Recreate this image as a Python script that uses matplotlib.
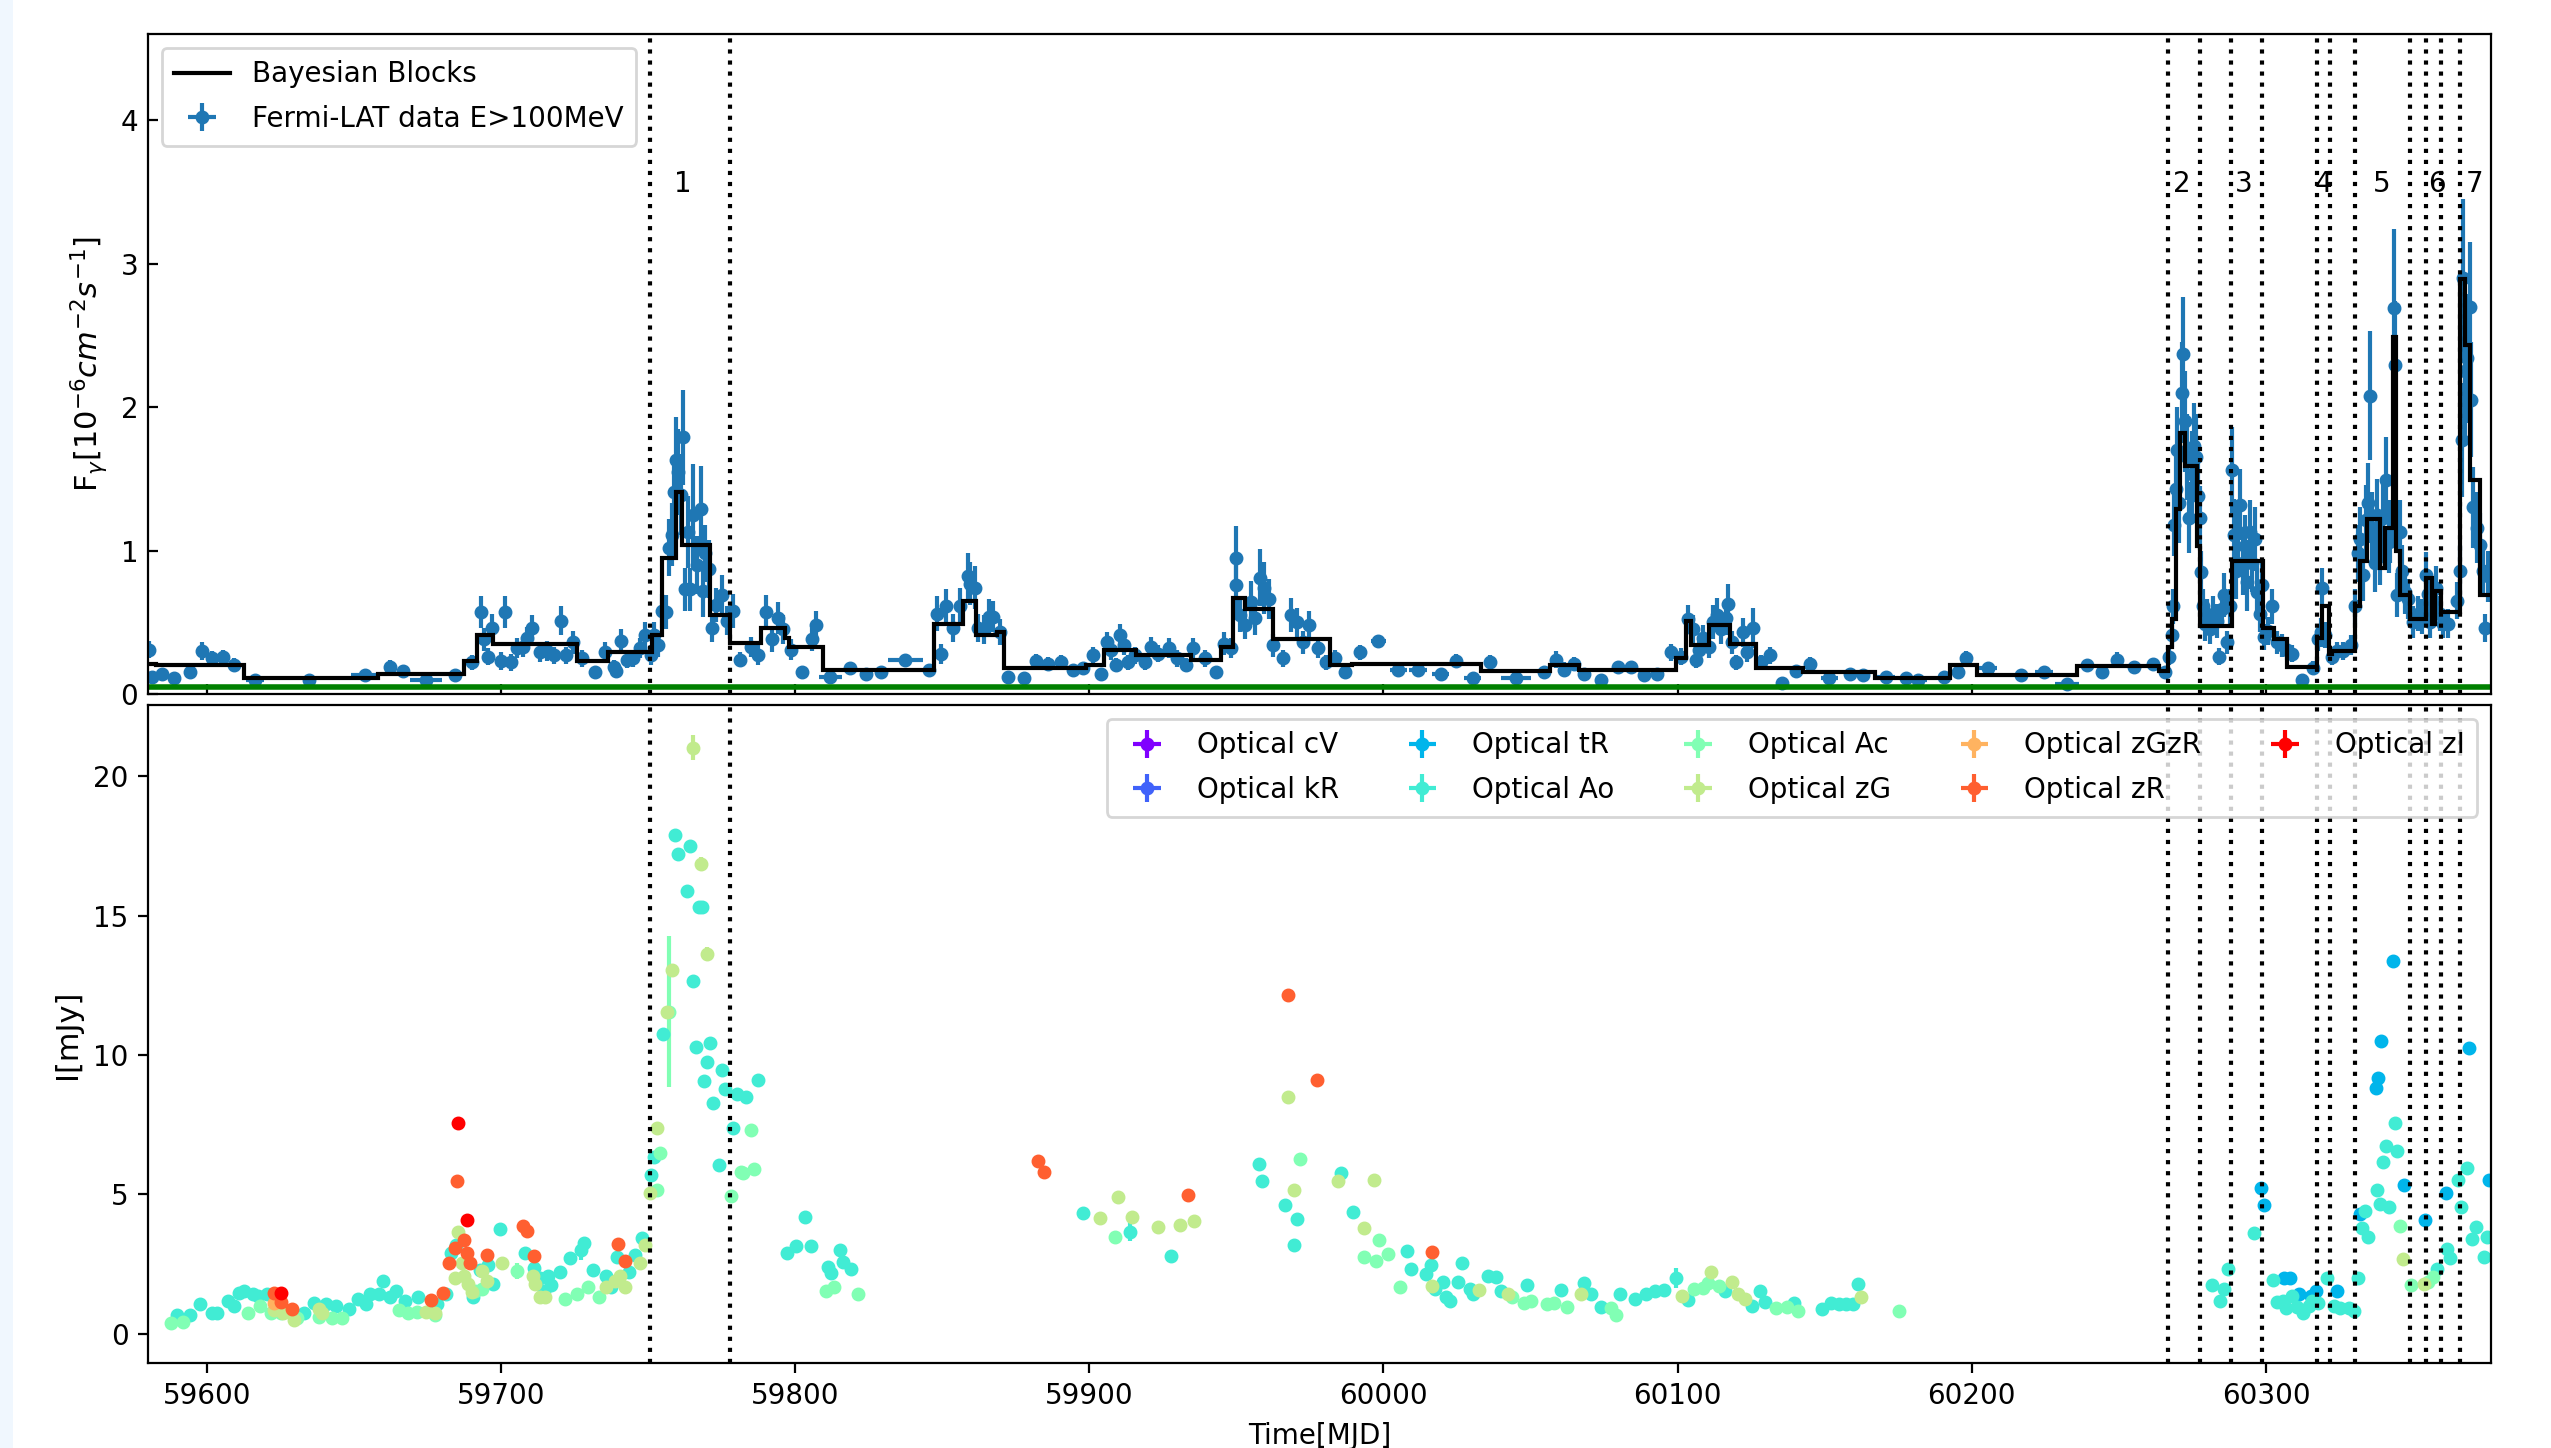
import numpy as np
import matplotlib
matplotlib.use("Agg")
import matplotlib.pyplot as plt
from matplotlib.patches import Rectangle

# ---------------- Fermi-LAT light curve (E>100 MeV) ----------------
fermi_t = [
    59580.5, 59581.5, 59584.6, 59588.8, 59594.3, 59598.5, 59601.9, 59605.4, 59609.4, 59616.4,
    59634.6, 59653.9, 59662.1, 59666.6, 59674.4, 59684.3, 59690.2, 59693.1, 59694.2, 59695.5,
    59696.9, 59699.9, 59701.5, 59703.4, 59705.5, 59707.4, 59708.7, 59710.6, 59713.1, 59715.6,
    59718.1, 59720.3, 59722.2, 59724.4, 59727.6, 59732.0, 59735.4, 59738.3, 59739.1, 59740.8,
    59742.7, 59745.0, 59747.1, 59749.0, 59750.9, 59752.1, 59753.4, 59754.7, 59756.2, 59757.2,
    59758.0, 59758.8, 59759.4, 59760.3, 59761.2, 59761.9, 59762.5, 59763.5, 59764.4, 59765.4,
    59766.7, 59767.9, 59768.8, 59769.5, 59770.8, 59771.7, 59773.0, 59775.2, 59777.0, 59778.8,
    59781.1, 59785.0, 59787.5, 59790.1, 59792.1, 59794.1, 59795.7, 59798.7, 59802.2, 59805.7,
    59807.2, 59812.0, 59818.8, 59824.1, 59829.3, 59837.4, 59845.6, 59848.2, 59849.7, 59851.4,
    59853.6, 59855.9, 59858.9, 59859.5, 59861.1, 59862.1, 59864.1, 59866.0, 59867.3, 59869.7,
    59872.5, 59877.7, 59881.9, 59885.8, 59890.4, 59894.3, 59897.7, 59901.2, 59904.0, 59906.1,
    59907.4, 59909.0, 59910.5, 59911.8, 59913.2, 59915.5, 59918.8, 59921.0, 59923.3, 59927.2,
    59929.8, 59932.7, 59935.4, 59939.2, 59943.2, 59945.7, 59948.0, 59949.7, 59949.9, 59951.2,
    59952.9, 59955.1, 59956.4, 59958.1, 59959.4, 59961.2, 59962.6, 59965.8, 59968.5, 59970.6,
    59972.5, 59974.7, 59977.6,
    59980.6, 59983.5, 59986.9, 59991.9, 59998.2, 60005.1, 60011.8, 60019.4, 60024.6, 60030.3,
    60036.2, 60045.0, 60054.4, 60058.6, 60061.5, 60064.6, 60068.3, 60074.0, 60079.7, 60084.3,
    60088.6, 60093.1, 60097.9, 60101.3, 60103.5, 60105.2, 60106.1, 60107.4, 60108.7, 60110.7,
    60112.0, 60113.3, 60114.8, 60116.5, 60117.2, 60118.5, 60119.8, 60122.1, 60123.7, 60125.6,
    60128.2, 60131.5, 60135.4, 60140.3, 60144.9, 60151.6, 60158.5, 60163.1, 60170.9, 60177.6,
    60181.7, 60190.4, 60195.3, 60198.0, 60205.6, 60216.7, 60224.6, 60232.4, 60239.2, 60244.1,
    60249.3, 60255.0, 60261.6, 60265.7,
    60267.1, 60267.9, 60268.5, 60268.7, 60269.4, 60269.9, 60270.5, 60271.3, 60271.9, 60272.5,
    60273.0, 60274.0, 60274.7, 60275.5, 60276.2, 60277.0, 60277.6, 60277.8, 60278.5, 60279.3,
    60280.1, 60281.0, 60282.1, 60283.2, 60284.1, 60284.9, 60285.7, 60286.8, 60287.8, 60288.3,
    60289.1, 60289.8, 60290.6, 60291.2, 60292.1, 60292.9, 60293.6, 60294.5, 60295.3, 60296.2,
    60297.0, 60297.9, 60298.7, 60299.3, 60300.8, 60302.2, 60303.6, 60305.3, 60307.2, 60309.0,
    60312.1, 60316.1, 60317.8, 60318.6, 60319.2, 60320.0, 60322.3, 60324.0, 60326.3, 60328.9,
    60330.2, 60331.4, 60332.1, 60333.1, 60334.0, 60334.8, 60335.3, 60336.2, 60337.0, 60337.9,
    60338.9, 60339.8, 60340.7, 60341.7, 60342.3, 60343.6, 60343.8, 60344.6, 60345.5, 60346.4,
    60347.2, 60348.3, 60350.0, 60351.7, 60353.2, 60354.3, 60355.1, 60355.9, 60356.8, 60357.9,
    60359.0, 60360.2, 60361.9, 60364.8, 60365.9, 60366.7, 60367.0, 60367.6, 60368.4, 60369.3,
    60369.8, 60370.4, 60371.6, 60372.7, 60373.8, 60374.4, 60375.5,
]
fermi_flux = [
    0.31, 0.12, 0.14, 0.11, 0.15, 0.30, 0.25, 0.26, 0.20, 0.10,
    0.10, 0.13, 0.19, 0.16, 0.10, 0.13, 0.22, 0.57, 0.38, 0.26,
    0.46, 0.23, 0.57, 0.22, 0.32, 0.33, 0.39, 0.46, 0.29, 0.30,
    0.27, 0.51, 0.27, 0.36, 0.25, 0.15, 0.29, 0.19, 0.16, 0.37,
    0.24, 0.25, 0.32, 0.41, 0.27, 0.41, 0.34, 0.58, 0.57, 1.02,
    1.11, 1.41, 1.63, 1.55, 1.39, 1.79, 0.73, 1.13, 0.73, 1.25,
    0.90, 1.29, 0.72, 0.98, 0.87, 0.46, 0.62, 0.69, 0.51, 0.58,
    0.24, 0.33, 0.27, 0.57, 0.38, 0.53, 0.45, 0.31, 0.15, 0.38,
    0.48, 0.12, 0.18, 0.14, 0.15, 0.24, 0.17, 0.56, 0.28, 0.61,
    0.46, 0.61, 0.82, 0.77, 0.74, 0.46, 0.45, 0.54, 0.54, 0.43,
    0.12, 0.11, 0.23, 0.21, 0.22, 0.17, 0.18, 0.27, 0.14, 0.36,
    0.31, 0.20, 0.41, 0.34, 0.22, 0.27, 0.22, 0.33, 0.28, 0.32,
    0.25, 0.20, 0.32, 0.25, 0.15, 0.35, 0.32, 0.76, 0.95, 0.55,
    0.48, 0.64, 0.53, 0.81, 0.74, 0.66, 0.34, 0.25, 0.55, 0.50,
    0.36, 0.48, 0.32,
    0.22, 0.25, 0.15, 0.29, 0.37, 0.17, 0.17, 0.14, 0.23, 0.11,
    0.22, 0.11, 0.15, 0.24, 0.17, 0.21, 0.14, 0.10, 0.19, 0.19,
    0.13, 0.14, 0.29, 0.26, 0.52, 0.45, 0.24, 0.31, 0.39, 0.33,
    0.50, 0.55, 0.45, 0.53, 0.63, 0.36, 0.22, 0.43, 0.29, 0.46,
    0.22, 0.27, 0.08, 0.16, 0.21, 0.11, 0.14, 0.13, 0.12, 0.11,
    0.10, 0.12, 0.15, 0.25, 0.18, 0.13, 0.15, 0.07, 0.20, 0.15,
    0.24, 0.19, 0.21, 0.15,
    0.26, 0.41, 0.61, 1.18, 1.43, 1.70, 1.33, 2.10, 2.37, 1.90,
    1.65, 1.23, 1.53, 1.73, 1.65, 1.38, 1.23, 0.85, 0.61, 0.49,
    0.54, 0.45, 0.56, 0.51, 0.26, 0.59, 0.69, 0.36, 0.61, 1.56,
    1.11, 0.86, 1.13, 1.32, 0.91, 1.03, 0.78, 1.13, 0.91, 1.08,
    0.71, 0.56, 0.76, 0.40, 0.44, 0.61, 0.36, 0.34, 0.31, 0.28,
    0.10, 0.18, 0.38, 0.43, 0.74, 0.41, 0.26, 0.30, 0.30, 0.34,
    0.61, 0.98, 1.08, 0.83, 1.21, 1.33, 2.08, 1.16, 0.91, 1.25,
    0.96, 1.23, 1.49, 1.06, 1.13, 2.69, 2.29, 0.69, 1.13, 0.86,
    0.71, 0.66, 0.50, 0.56, 0.54, 0.83, 0.70, 0.50, 0.61, 0.74,
    0.56, 0.49, 0.49, 0.65, 0.86, 1.77, 2.90, 2.25, 2.34, 2.70,
    2.05, 1.30, 1.16, 1.04, 0.86, 0.46, 0.82,
]
fermi_flux_err = [
    0.06, 0.04, 0.04, 0.04, 0.04, 0.06, 0.05, 0.05, 0.05, 0.03,
    0.03, 0.03, 0.05, 0.04, 0.03, 0.04, 0.05, 0.11, 0.08, 0.06,
    0.10, 0.06, 0.11, 0.06, 0.07, 0.07, 0.08, 0.09, 0.07, 0.07,
    0.06, 0.10, 0.06, 0.08, 0.06, 0.04, 0.07, 0.05, 0.05, 0.08,
    0.06, 0.06, 0.07, 0.09, 0.07, 0.09, 0.08, 0.12, 0.12, 0.20,
    0.22, 0.25, 0.30, 0.30, 0.28, 0.33, 0.15, 0.25, 0.15, 0.35,
    0.20, 0.30, 0.18, 0.20, 0.20, 0.10, 0.12, 0.14, 0.10, 0.12,
    0.05, 0.07, 0.07, 0.12, 0.09, 0.11, 0.10, 0.07, 0.04, 0.08,
    0.10, 0.03, 0.04, 0.04, 0.04, 0.04, 0.04, 0.12, 0.07, 0.12,
    0.10, 0.13, 0.16, 0.15, 0.15, 0.10, 0.10, 0.12, 0.11, 0.09,
    0.04, 0.04, 0.05, 0.05, 0.05, 0.04, 0.04, 0.06, 0.04, 0.07,
    0.07, 0.05, 0.08, 0.07, 0.05, 0.06, 0.05, 0.07, 0.06, 0.07,
    0.06, 0.05, 0.07, 0.06, 0.04, 0.08, 0.07, 0.20, 0.22, 0.12,
    0.10, 0.15, 0.12, 0.20, 0.18, 0.14, 0.08, 0.06, 0.12, 0.10,
    0.08, 0.10, 0.07,
    0.05, 0.06, 0.04, 0.05, 0.04, 0.03, 0.03, 0.03, 0.05, 0.03,
    0.05, 0.03, 0.04, 0.06, 0.05, 0.05, 0.04, 0.04, 0.04, 0.04,
    0.04, 0.04, 0.06, 0.06, 0.10, 0.10, 0.06, 0.07, 0.09, 0.08,
    0.12, 0.12, 0.10, 0.12, 0.14, 0.08, 0.05, 0.10, 0.07, 0.14,
    0.05, 0.06, 0.03, 0.04, 0.05, 0.03, 0.03, 0.03, 0.03, 0.03,
    0.03, 0.03, 0.04, 0.05, 0.03, 0.03, 0.03, 0.03, 0.04, 0.04,
    0.05, 0.04, 0.04, 0.04,
    0.06, 0.08, 0.12, 0.22, 0.25, 0.30, 0.28, 0.35, 0.40, 0.35,
    0.30, 0.25, 0.30, 0.30, 0.30, 0.25, 0.22, 0.15, 0.12, 0.12,
    0.12, 0.10, 0.12, 0.12, 0.06, 0.12, 0.15, 0.08, 0.12, 0.30,
    0.25, 0.20, 0.22, 0.25, 0.22, 0.22, 0.20, 0.22, 0.20, 0.22,
    0.18, 0.13, 0.16, 0.09, 0.10, 0.12, 0.08, 0.08, 0.07, 0.06,
    0.04, 0.05, 0.08, 0.10, 0.14, 0.09, 0.06, 0.06, 0.06, 0.07,
    0.12, 0.20, 0.22, 0.18, 0.25, 0.28, 0.45, 0.25, 0.20, 0.25,
    0.20, 0.25, 0.30, 0.22, 0.22, 0.55, 0.45, 0.15, 0.22, 0.18,
    0.15, 0.14, 0.11, 0.12, 0.12, 0.16, 0.15, 0.11, 0.13, 0.15,
    0.12, 0.10, 0.10, 0.13, 0.18, 0.40, 0.55, 0.45, 0.45, 0.45,
    0.40, 0.28, 0.25, 0.22, 0.18, 0.10, 0.18,
]
fermi_time_err = [
    0.5, 0.5, 1.0, 1.5, 1.5, 1.0, 1.0, 1.0, 1.0, 3.0,
    2.0, 5.0, 1.5, 1.5, 5.5, 1.5, 1.0, 0.5, 0.5, 0.5,
    0.5, 0.5, 0.5, 0.5, 0.5, 0.5, 0.5, 0.5, 0.5, 0.5,
    0.5, 0.5, 0.5, 0.5, 0.5, 1.0, 0.5, 0.5, 0.5, 0.5,
    0.5, 0.5, 0.5, 0.5, 0.5, 0.5, 0.5, 0.5, 0.5, 0.5,
    0.5, 0.5, 0.5, 0.5, 0.5, 0.5, 0.5, 0.5, 0.5, 0.5,
    0.5, 0.5, 0.5, 0.5, 0.5, 0.5, 0.5, 0.5, 0.5, 0.5,
    0.5, 0.5, 0.5, 0.5, 0.5, 0.5, 0.5, 0.5, 1.0, 0.5,
    0.5, 4.0, 2.0, 2.0, 2.0, 6.0, 1.0, 0.5, 0.5, 0.5,
    0.5, 0.5, 0.5, 0.5, 0.5, 0.5, 0.5, 0.5, 0.5, 0.5,
    1.0, 1.0, 1.0, 1.0, 1.0, 1.0, 1.0, 0.5, 1.0, 0.5,
    0.5, 0.5, 0.5, 0.5, 0.5, 0.5, 0.5, 0.5, 0.5, 0.5,
    0.5, 0.5, 0.5, 0.5, 1.0, 0.5, 0.5, 0.5, 0.5, 0.5,
    0.5, 0.5, 0.5, 0.5, 0.5, 0.5, 0.5, 0.5, 0.5, 0.5,
    0.5, 0.5, 0.5,
    1.0, 1.0, 1.0, 1.5, 2.5, 3.0, 3.0, 3.0, 1.0, 3.0,
    1.0, 5.0, 1.5, 1.0, 1.0, 1.0, 1.0, 1.5, 1.5, 1.5,
    1.0, 1.0, 0.5, 0.5, 0.5, 0.5, 0.5, 0.5, 0.5, 0.5,
    0.5, 0.5, 0.5, 0.5, 0.5, 0.5, 0.5, 0.5, 0.5, 0.5,
    0.5, 0.5, 1.0, 1.5, 1.5, 3.0, 2.0, 2.0, 3.0, 2.0,
    3.0, 2.0, 1.0, 1.0, 3.0, 2.0, 3.0, 4.0, 1.5, 1.5,
    1.5, 1.5, 1.5, 0.5,
    0.5, 0.5, 0.5, 0.5, 0.5, 0.5, 0.5, 0.5, 0.5, 0.5,
    0.5, 0.5, 0.5, 0.5, 0.5, 0.5, 0.5, 0.5, 0.5, 0.5,
    0.5, 0.5, 0.5, 0.5, 0.5, 0.5, 0.5, 0.5, 0.5, 0.5,
    0.5, 0.5, 0.5, 0.5, 0.5, 0.5, 0.5, 0.5, 0.5, 0.5,
    0.5, 0.5, 0.5, 0.5, 0.5, 0.5, 0.5, 0.5, 0.5, 0.5,
    1.0, 0.5, 0.5, 0.5, 0.5, 0.5, 0.5, 0.5, 0.5, 0.5,
    0.5, 0.5, 0.5, 0.5, 0.5, 0.5, 0.5, 0.5, 0.5, 0.5,
    0.5, 0.5, 0.5, 0.5, 0.5, 0.5, 0.5, 0.5, 0.5, 0.5,
    0.5, 0.5, 0.5, 0.5, 0.5, 0.5, 0.5, 0.5, 0.5, 0.5,
    0.5, 0.5, 0.5, 0.5, 0.5, 0.5, 0.5, 0.5, 0.5, 0.5,
    0.5, 0.5, 0.5, 0.5, 0.5, 0.5, 0.5,
]

# ---------------- Bayesian blocks ----------------
bb_edges = [
    59580.0, 59582.7, 59612.7, 59658.1, 59687.5, 59691.7, 59697.4, 59726.0, 59736.4, 59751.5,
    59754.9, 59759.4, 59761.5, 59771.2, 59777.7, 59788.5, 59796.4, 59798.0, 59809.6, 59847.1,
    59857.2, 59861.5, 59868.6, 59871.0, 59898.8, 59905.1, 59915.9, 59934.4, 59944.8, 59948.7,
    59953.0, 59962.4, 59981.7, 59989.3, 60033.0, 60056.7, 60066.4, 60099.6, 60102.9, 60104.4,
    60110.7, 60117.8, 60126.5, 60142.5, 60167.2, 60192.7, 60201.7, 60235.8, 60263.8, 60266.8,
    60268.0, 60269.4, 60270.8, 60272.5, 60276.7, 60277.7, 60288.3, 60299.1, 60302.7, 60307.0,
    60317.2, 60318.9, 60321.4, 60322.3, 60330.4, 60331.9, 60334.3, 60338.6, 60340.6, 60343.3,
    60344.1, 60345.6, 60349.0, 60354.4, 60356.3, 60357.5, 60359.6, 60366.1, 60367.6, 60369.3,
    60372.9, 60376.5,
]
bb_values = [
    0.21, 0.20, 0.11, 0.14, 0.23, 0.41, 0.35, 0.23, 0.29, 0.41,
    0.95, 1.41, 1.04, 0.55, 0.355, 0.46, 0.39, 0.33, 0.17, 0.49,
    0.65, 0.41, 0.43, 0.18, 0.20, 0.31, 0.27, 0.24, 0.33, 0.67,
    0.59, 0.38, 0.20, 0.21, 0.16, 0.20, 0.17, 0.25, 0.51, 0.34,
    0.48, 0.35, 0.18, 0.15, 0.115, 0.20, 0.13, 0.195, 0.16, 0.33,
    0.52, 1.29, 1.82, 1.59, 1.03, 0.475, 0.93, 0.46, 0.38, 0.19,
    0.39, 0.61, 0.28, 0.30, 0.61, 0.93, 1.22, 0.88, 1.16, 2.49,
    1.00, 0.69, 0.52, 0.81, 0.49, 0.72, 0.57, 2.89, 2.43, 1.49,
    0.69,
]
green_level = 0.05

# ---------------- flare intervals ----------------
flare_edges = [59750.6, 59777.8, 60266.8, 60277.5, 60288.0, 60298.7, 60317.2, 60321.7,
               60330.4, 60349.1, 60354.3, 60359.6, 60366.1]
flare_labels = ['1', '2', '3', '4', '5', '6', '7']
flare_label_x = [59761.8, 60271.3, 60292.3, 60319.5, 60339.3, 60358.2, 60371.0]
flare_label_y = 3.5

# ---------------- Optical data ----------------
cV_t, cV_I, cV_e = [], [], []
kR_t, kR_I, kR_e = [], [], []

tR_t = [60298.3, 60299.5, 60306.2, 60308.2, 60311.2, 60315.2, 60317.0, 60324.0, 60332.0, 60337.5,
        60338.2, 60339.2, 60343.2, 60346.9, 60354.2, 60361.2, 60368.9, 60375.7]
tR_I = [5.22, 4.61, 2.01, 2.01, 1.41, 1.35, 1.53, 1.53, 4.30, 8.81,
        9.16, 10.49, 13.36, 5.34, 4.08, 5.03, 10.25, 5.52]
tR_e = [0.1, 0.1, 0.1, 0.1, 0.1, 0.1, 0.1, 0.1, 0.1, 0.1,
        0.1, 0.1, 0.1, 0.1, 0.1, 0.1, 0.1, 0.1]

Ao_t = [
    59590.0, 59594.2, 59597.7, 59601.8, 59603.6, 59607.1, 59609.4, 59610.9, 59612.7, 59615.7,
    59617.3, 59620.3, 59632.9, 59636.6, 59640.4, 59643.9, 59648.4, 59651.5, 59654.1, 59655.6,
    59658.6, 59659.8, 59662.4, 59664.3, 59667.2, 59671.9, 59678.3, 59681.3, 59683.1, 59684.8,
    59690.4, 59693.0, 59695.7, 59697.2, 59699.5, 59708.3, 59711.1, 59713.1, 59714.6, 59716.1,
    59717.1, 59719.9, 59723.6, 59727.2, 59728.2, 59731.3, 59735.8, 59737.4, 59739.3, 59743.4,
    59745.6, 59747.9, 59751.1, 59752.0, 59755.1, 59759.3, 59760.3, 59763.3, 59764.1, 59765.2,
    59766.2, 59767.2, 59768.5, 59769.0, 59770.2, 59771.1, 59772.1, 59774.2, 59775.0, 59776.3,
    59779.0, 59780.2, 59783.2, 59787.2, 59797.1, 59800.2, 59803.3, 59805.3, 59811.1, 59812.1,
    59815.4, 59816.4, 59819.1, 59897.7, 59913.7, 59927.7, 59957.8, 59958.8, 59966.6, 59969.7,
    59970.7, 59985.5, 59989.5, 60008.0, 60009.4, 60014.6, 60016.0, 60017.6, 60020.1, 60021.1,
    60022.5, 60025.4, 60026.6, 60029.3, 60030.5, 60035.7, 60038.3, 60039.8, 60048.8, 60060.3,
    60068.0, 60070.5, 60074.0, 60080.3, 60085.5, 60089.3, 60092.3, 60095.3, 60099.3, 60103.5,
    60116.0, 60125.2, 60128.0, 60129.7, 60139.7, 60149.2, 60152.2, 60154.7, 60157.2, 60159.7,
    60161.2, 60281.5, 60284.5, 60285.7, 60287.0, 60295.8, 60302.5, 60303.7, 60305.7, 60306.9,
    60308.7, 60310.7, 60312.7, 60314.5, 60315.7, 60317.7, 60320.7, 60323.2, 60325.2, 60328.2,
    60330.0, 60331.2, 60332.7, 60333.7, 60334.7, 60337.7, 60338.7, 60339.7, 60340.7, 60341.7,
    60343.7, 60344.7, 60358.2, 60361.4, 60362.4, 60365.4, 60366.4, 60368.4, 60370.2, 60371.4,
    60374.2, 60375.2,
]
Ao_I = [
    0.67, 0.67, 1.05, 0.73, 0.73, 1.17, 0.98, 1.45, 1.54, 1.43,
    1.37, 1.43, 0.73, 1.10, 1.08, 0.98, 0.90, 1.25, 1.08, 1.43,
    1.43, 1.89, 1.31, 1.54, 1.19, 1.31, 1.08, 1.43, 2.89, 3.18,
    1.33, 2.30, 2.48, 1.78, 3.77, 2.89, 2.36, 2.01, 1.54, 2.07,
    1.75, 2.21, 2.71, 3.01, 3.24, 2.30, 2.07, 1.66, 2.74, 2.22,
    2.83, 3.42, 5.69, 6.35, 10.75, 17.87, 17.19, 15.87, 17.48, 12.65,
    10.29, 15.32, 15.32, 9.07, 9.73, 10.41, 8.26, 6.04, 9.45, 8.79,
    7.37, 8.59, 8.50, 9.11, 2.91, 3.14, 4.18, 3.14, 2.39, 2.19,
    3.00, 2.57, 2.31, 4.32, 3.66, 2.79, 6.09, 5.46, 4.60, 3.17,
    4.13, 5.78, 4.35, 2.98, 2.32, 2.13, 2.45, 1.61, 1.84, 1.32,
    1.18, 1.84, 2.52, 1.61, 1.41, 2.08, 2.03, 1.53, 1.75, 1.56,
    1.82, 1.41, 0.97, 1.44, 1.23, 1.44, 1.53, 1.58, 2.00, 1.21,
    1.53, 1.01, 1.53, 1.13, 1.09, 0.88, 1.09, 1.06, 1.06, 1.06,
    1.79, 1.75, 1.18, 1.61, 2.31, 3.61, 1.93, 1.13, 1.18, 0.92,
    1.35, 0.95, 0.75, 1.01, 1.18, 1.09, 2.01, 1.01, 0.92, 0.92,
    0.83, 2.01, 3.78, 4.39, 3.47, 5.17, 4.65, 6.16, 6.73, 4.53,
    7.55, 6.56, 2.31, 3.05, 2.71, 5.52, 4.56, 5.95, 3.38, 3.83,
    2.74, 3.47,
]
Ao_e = [
    0.1, 0.1, 0.1, 0.1, 0.1, 0.1, 0.1, 0.1, 0.1, 0.1,
    0.1, 0.1, 0.1, 0.1, 0.1, 0.1, 0.1, 0.1, 0.1, 0.1,
    0.1, 0.1, 0.1, 0.1, 0.1, 0.1, 0.1, 0.1, 0.1, 0.1,
    0.1, 0.1, 0.1, 0.1, 0.1, 0.1, 0.1, 0.1, 0.1, 0.1,
    0.1, 0.1, 0.1, 0.35, 0.1, 0.1, 0.1, 0.1, 0.1, 0.1,
    0.1, 0.1, 0.1, 0.1, 0.1, 0.1, 0.1, 0.1, 0.1, 0.1,
    0.1, 0.1, 0.1, 0.1, 0.1, 0.1, 0.1, 0.1, 0.1, 0.1,
    0.1, 0.1, 0.1, 0.1, 0.1, 0.1, 0.1, 0.1, 0.1, 0.1,
    0.1, 0.1, 0.1, 0.1, 0.35, 0.1, 0.1, 0.1, 0.1, 0.1,
    0.1, 0.1, 0.1, 0.1, 0.1, 0.1, 0.1, 0.1, 0.1, 0.1,
    0.1, 0.1, 0.1, 0.1, 0.1, 0.1, 0.1, 0.1, 0.1, 0.1,
    0.1, 0.1, 0.1, 0.1, 0.1, 0.1, 0.1, 0.1, 0.35, 0.1,
    0.1, 0.1, 0.1, 0.1, 0.1, 0.1, 0.1, 0.1, 0.1, 0.1,
    0.1, 0.1, 0.1, 0.1, 0.1, 0.1, 0.1, 0.1, 0.1, 0.1,
    0.1, 0.1, 0.1, 0.1, 0.1, 0.1, 0.1, 0.1, 0.1, 0.1,
    0.1, 0.1, 0.1, 0.1, 0.1, 0.1, 0.1, 0.1, 0.1, 0.1,
    0.1, 0.1, 0.1, 0.1, 0.1, 0.1, 0.1, 0.1, 0.1, 0.1,
    0.1, 0.1,
]

Ac_t = [
    59587.9, 59592.0, 59613.9, 59618.2, 59621.8, 59625.3, 59630.6, 59638.2, 59642.7, 59646.0,
    59665.4, 59668.4, 59671.5, 59677.5, 59691.1, 59693.4, 59705.5, 59721.7, 59726.0, 59729.7,
    59733.2, 59753.2, 59754.1, 59757.2, 59778.3, 59781.5, 59782.3, 59785.1, 59786.1, 59810.4,
    59813.3, 59821.3, 59908.8, 59971.5, 59993.4, 59997.3, 59998.6, 60001.6, 60005.5, 60043.6,
    60047.6, 60050.1, 60055.6, 60057.8, 60062.3, 60077.3, 60079.0, 60105.5, 60108.5, 60110.2,
    60114.0, 60133.5, 60137.2, 60140.9, 60175.4, 60345.7, 60349.4, 60355.2, 60356.9,
]
Ac_I = [
    0.37, 0.41, 0.73, 0.98, 0.73, 0.73, 0.55, 0.61, 0.55, 0.58,
    0.84, 0.75, 0.78, 0.67, 1.54, 1.60, 2.25, 1.25, 1.43, 1.66,
    1.31, 5.17, 6.47, 11.55, 4.94, 5.81, 5.78, 7.30, 5.90, 1.53,
    1.67, 1.44, 3.47, 6.26, 2.74, 2.60, 3.35, 2.86, 1.68, 1.30,
    1.09, 1.18, 1.06, 1.09, 0.97, 0.92, 0.66, 1.61, 1.65, 1.82,
    1.70, 0.92, 0.97, 0.80, 0.83, 3.87, 1.75, 1.87, 2.05,
]
Ac_e = [
    0.1, 0.1, 0.1, 0.1, 0.1, 0.1, 0.1, 0.1, 0.1, 0.1,
    0.1, 0.1, 0.1, 0.1, 0.1, 0.1, 0.3, 0.1, 0.1, 0.1,
    0.1, 0.1, 0.1, 2.7, 0.1, 0.1, 0.1, 0.1, 0.1, 0.1,
    0.1, 0.1, 0.1, 0.1, 0.1, 0.1, 0.1, 0.1, 0.1, 0.1,
    0.1, 0.1, 0.1, 0.1, 0.1, 0.1, 0.1, 0.1, 0.1, 0.1,
    0.1, 0.1, 0.1, 0.1, 0.1, 0.1, 0.1, 0.1, 0.1,
]

zG_t = [
    59623.0, 59626.0, 59629.8, 59638.2, 59639.0, 59674.5, 59677.5, 59684.3, 59685.4, 59686.6,
    59687.4, 59688.9, 59690.0, 59693.4, 59695.4, 59700.2, 59711.0, 59711.6, 59713.1, 59715.1,
    59735.8, 59738.8, 59740.3, 59742.2, 59747.2, 59749.0, 59750.8, 59753.2, 59756.3, 59758.2,
    59765.2, 59768.1, 59770.2, 59903.5, 59909.6, 59914.6, 59923.4, 59930.7, 59935.5, 59967.6,
    59969.5, 59984.6, 59993.4, 59996.7, 60016.4, 60032.4, 60042.3, 60067.3, 60101.5, 60111.5,
    60118.5, 60120.5, 60123.0, 60162.2, 60346.7, 60353.7,
]
zG_I = [
    0.84, 0.73, 0.51, 0.87, 0.73, 0.78, 0.75, 2.01, 3.65, 2.54,
    2.07, 1.78, 1.51, 2.25, 1.89, 2.54, 2.07, 1.78, 1.33, 1.33,
    1.66, 1.89, 2.07, 1.66, 2.54, 3.18, 5.05, 7.37, 11.55, 13.06,
    21.02, 16.84, 13.63, 4.16, 4.89, 4.20, 3.82, 3.90, 4.06, 8.50,
    5.17, 5.46, 3.78, 5.53, 1.70, 1.58, 1.44, 1.44, 1.35, 2.22,
    1.87, 1.44, 1.23, 1.30, 2.69, 1.79,
]
zG_e = [
    0.1, 0.1, 0.1, 0.1, 0.1, 0.1, 0.1, 0.1, 0.1, 0.1,
    0.1, 0.1, 0.1, 0.1, 0.1, 0.1, 0.1, 0.1, 0.1, 0.1,
    0.1, 0.1, 0.1, 0.1, 0.1, 0.1, 0.1, 0.1, 0.1, 0.1,
    0.45, 0.25, 0.25, 0.1, 0.1, 0.1, 0.1, 0.1, 0.1, 0.1,
    0.1, 0.1, 0.1, 0.1, 0.1, 0.1, 0.1, 0.1, 0.1, 0.1,
    0.1, 0.1, 0.1, 0.1, 0.1, 0.1,
]

zGzR_t = [59623.0]
zGzR_I = [1.10]
zGzR_e = [0.1]

zR_t = [59622.7, 59625.3, 59628.8, 59676.3, 59680.2, 59682.4, 59684.3, 59685.1, 59687.4, 59688.4,
        59689.3, 59695.2, 59707.5, 59709.0, 59711.1, 59739.9, 59742.2, 59882.6, 59884.6, 59933.4,
        59967.4, 59977.3, 60016.4]
zR_I = [1.46, 1.13, 0.87, 1.22, 1.46, 2.54, 3.06, 5.46, 3.36, 2.89,
        2.54, 2.81, 3.86, 3.67, 2.77, 3.22, 2.60, 6.21, 5.81, 4.98,
        12.16, 9.11, 2.93]
zR_e = [0.1, 0.1, 0.1, 0.1, 0.1, 0.1, 0.1, 0.1, 0.1, 0.1,
        0.1, 0.1, 0.1, 0.1, 0.1, 0.1, 0.1, 0.1, 0.1, 0.1,
        0.1, 0.1, 0.1]

zI_t = [59625.3, 59685.3, 59688.3]
zI_I = [1.45, 7.56, 4.08]
zI_e = [0.1, 0.1, 0.1]

optical_names = ['Optical cV', 'Optical kR', 'Optical tR', 'Optical Ao', 'Optical Ac',
                 'Optical zG', 'Optical zGzR', 'Optical zR', 'Optical zI']
optical_data = [(cV_t, cV_I, cV_e), (kR_t, kR_I, kR_e), (tR_t, tR_I, tR_e),
                (Ao_t, Ao_I, Ao_e), (Ac_t, Ac_I, Ac_e), (zG_t, zG_I, zG_e),
                (zGzR_t, zGzR_I, zGzR_e), (zR_t, zR_I, zR_e), (zI_t, zI_I, zI_e)]

assert len(fermi_t) == len(fermi_flux) == len(fermi_flux_err) == len(fermi_time_err)
assert len(bb_edges) == len(bb_values) + 1
for t_, i_, e_ in optical_data:
    assert len(t_) == len(i_) == len(e_)

# ---------------- figure ----------------
W, H = 2551, 1448
fig = plt.figure(figsize=(W / 200, H / 200), dpi=200)
fig.patches.append(Rectangle((0, 0), 13 / W, 1, transform=fig.transFigure,
                             facecolor='#f0f7fe', edgecolor='none', zorder=-10))

ax1 = fig.add_axes([148 / W, 1 - 694 / H, (2491 - 148) / W, (694 - 34) / H])
ax2 = fig.add_axes([148 / W, 1 - 1363 / H, (2491 - 148) / W, (1363 - 705) / H], sharex=ax1)

# top panel
ax1.stairs(bb_values, bb_edges, baseline=None, color='black', lw=1.5,
           label='Bayesian Blocks', zorder=3)
ax1.errorbar(fermi_t, fermi_flux, yerr=fermi_flux_err, xerr=fermi_time_err,
             fmt='o', ms=4, color='tab:blue', label='Fermi-LAT data E>100MeV', zorder=2)
ax1.axhline(green_level, color='green', lw=2.0, zorder=2.5)
for xe in flare_edges:
    ax1.axvline(xe, color='black', ls=':', lw=1.5, zorder=4)
    ax2.axvline(xe, color='black', ls=':', lw=1.5, zorder=4)
for xl, lab in zip(flare_label_x, flare_labels):
    ax1.text(xl, flare_label_y, lab, ha='center', fontsize=10)

ax1.set_xlim(59580, 60376.5)
ax1.set_ylim(0, 4.6)
ax1.set_ylabel(r'F$_{\gamma}$[10$^{-6}cm^{-2}s^{-1}$]', fontsize=11)
ax1.legend(loc='upper left', labelspacing=0.6, borderpad=0.45)
ax1.tick_params(labelbottom=False, direction='in')

# bottom panel
colors = plt.cm.rainbow(np.linspace(0, 1, len(optical_names)))
for name, (t_, i_, e_), c in zip(optical_names, optical_data, colors):
    if len(t_) == 0:
        ax2.errorbar([np.nan], [np.nan], yerr=[np.nan], xerr=[np.nan],
                     fmt='o', ms=4, color=c, label=name)
    else:
        ax2.errorbar(t_, i_, yerr=e_, xerr=0, fmt='o', ms=4, color=c, label=name)

ax2.set_ylim(-1.05, 22.55)
ax2.set_ylabel('I[mJy]', fontsize=11)
ax2.set_xlabel('Time[MJD]')
ax2.legend(loc='upper right', ncol=5, labelspacing=0.6, borderpad=0.45)

fig.savefig('out.png', dpi=200)
